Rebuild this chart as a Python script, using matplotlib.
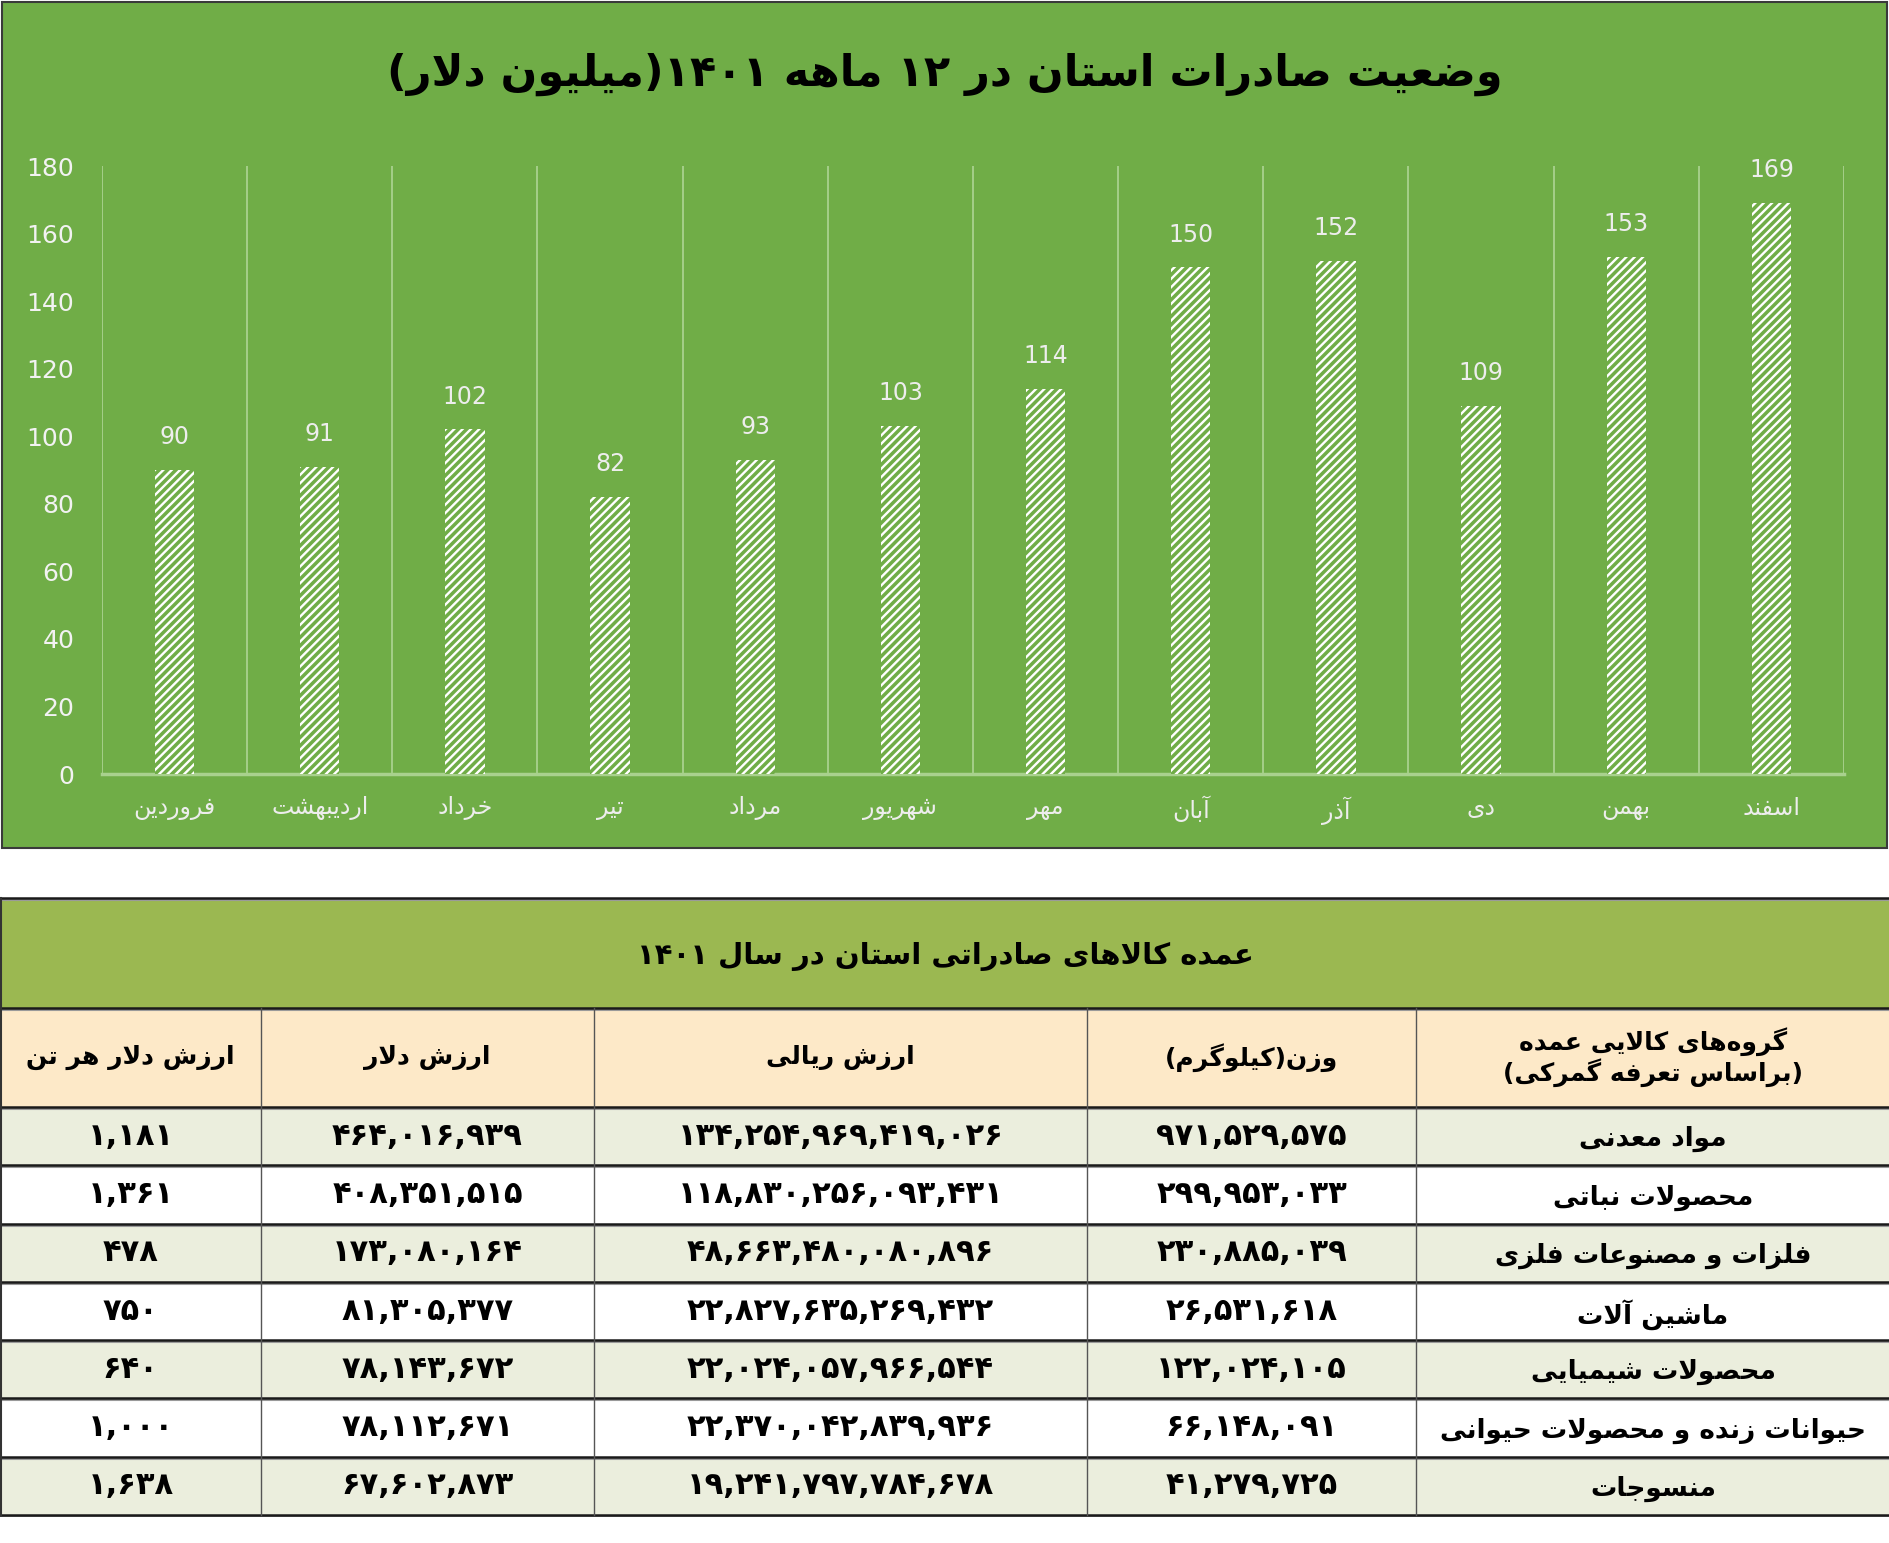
import re
import matplotlib
matplotlib.use('Agg')
import matplotlib.pyplot as plt
from matplotlib.patches import Rectangle
import numpy as np

# data
months = ['فروردین', 'اردیبهشت', 'خرداد', 'تیر', 'مرداد', 'شهریور',
          'مهر', 'آبان', 'آذر', 'دی', 'بهمن', 'اسفند']
exports = [90, 91, 102, 82, 93, 103, 114, 150, 152, 109, 153, 169]

chart_title = 'وضعیت صادرات استان در ۱۲ ماهه ۱۴۰۱(میلیون دلار)'
table_title = 'عمده کالاهای صادراتی استان در سال ۱۴۰۱'
headers = ['گروه\u200cهای کالایی عمده\n(براساس تعرفه گمرکی)', 'وزن(کیلوگرم)',
           'ارزش ریالی', 'ارزش دلار', 'ارزش دلار هر تن']
groups = ['مواد معدنی', 'محصولات نباتی', 'فلزات و مصنوعات فلزی', 'ماشین آلات',
          'محصولات شیمیایی', 'حیوانات زنده و محصولات حیوانی', 'منسوجات']
weight_kg = [971529575, 299953033, 230885039, 26531618, 122024105, 66148091, 41279725]
value_rial = [134254969419026, 118830256093431, 48663480080896, 22827635269432,
              22024057966544, 22370042839936, 19241797784678]
value_usd = [464016939, 408351515, 173080164, 81305377, 78143672, 78112671, 67602873]
usd_per_ton = [1181, 1361, 478, 750, 640, 1000, 1638]


# persian shaping (no arabic_reshaper here)
def four(c):
    return tuple(chr(c + i) for i in range(4))

def two(c):
    return (chr(c), chr(c + 1))

FORMS = {
    'آ': two(0xFE81), 'ا': two(0xFE8D), 'ب': four(0xFE8F), 'پ': four(0xFB56),
    'ت': four(0xFE95), 'ث': four(0xFE99), 'ج': four(0xFE9D), 'چ': four(0xFB7A),
    'ح': four(0xFEA1), 'خ': four(0xFEA5), 'د': two(0xFEA9), 'ذ': two(0xFEAB),
    'ر': two(0xFEAD), 'ز': two(0xFEAF), 'ژ': two(0xFB8A), 'س': four(0xFEB1),
    'ش': four(0xFEB5), 'ص': four(0xFEB9), 'ض': four(0xFEBD), 'ط': four(0xFEC1),
    'ظ': four(0xFEC5), 'ع': four(0xFEC9), 'غ': four(0xFECD), 'ف': four(0xFED1),
    'ق': four(0xFED5), 'ک': four(0xFB8E), 'گ': four(0xFB92), 'ل': four(0xFEDD),
    'م': four(0xFEE1), 'ن': four(0xFEE5), 'و': two(0xFEED), 'ه': four(0xFEE9),
    'ی': four(0xFBFC), 'ئ': four(0xFE89),
    'لا': two(0xFEFB), 'لآ': two(0xFEF5),
}

def jtype(c):
    f = FORMS.get(c)
    if f is None:
        return 'U'
    return 'D' if len(f) == 4 else 'R'

def shape(s):
    toks = []
    i = 0
    while i < len(s):
        if s[i] == 'ل' and i + 1 < len(s) and s[i + 1] in 'اآ':
            toks.append(s[i:i + 2])
            i += 2
        else:
            toks.append(s[i])
            i += 1
    out = []
    for k, c in enumerate(toks):
        t = jtype(c)
        if t == 'U':
            if c != '\u200c':
                out.append(c)
            continue
        jp = k > 0 and jtype(toks[k - 1]) == 'D'
        jn = t == 'D' and k + 1 < len(toks) and jtype(toks[k + 1]) in 'DR'
        f = FORMS[c]
        if jp and jn:
            out.append(f[3])
        elif jp:
            out.append(f[1])
        elif jn:
            out.append(f[2])
        else:
            out.append(f[0])
    return ''.join(out)

def fa(s):
    lines = []
    for line in s.split('\n'):
        r = shape(line)[::-1]
        r = re.sub(r'[0-9۰-۹٬,]+', lambda m: m.group(0)[::-1], r)
        lines.append(r.translate(str.maketrans('()', ')(')))
    return '\n'.join(lines)

def fa_num(n):
    return f'{n:,}'.translate(str.maketrans('0123456789', '۰۱۲۳۴۵۶۷۸۹'))


green = '#70AD47'
plt.rcParams['font.family'] = ['DejaVu Sans']
plt.rcParams['hatch.linewidth'] = 1.7

W, H = 1890, 1543
fig = plt.figure(figsize=(W / 100, H / 100), dpi=100)
fig.patch.set_facecolor('white')

# green chart panel
fig.add_artist(Rectangle((0.001, 1 - 848 / H), 1885 / W, 846 / H, transform=fig.transFigure,
                         facecolor=green, edgecolor='#3a3a3a', linewidth=1.5, zorder=-10))
fig.text(0.5, 1 - 74 / H, fa(chart_title), ha='center', va='center',
         fontsize=31, fontweight='bold', color='black')

ax = fig.add_axes([102 / W, 1 - 774 / H, 1742 / W, 608 / H])
ax.set_facecolor('none')
x = np.arange(len(months))
bars = ax.bar(x, exports, width=0.27, color=green, hatch='////', edgecolor='white',
              linewidth=0, zorder=3)
ax.bar_label(bars, labels=[str(v) for v in exports], padding=15, fontsize=17, color='#EDEDED')

ax.set_xlim(-0.5, len(months) - 0.5)
ax.set_ylim(0, 180)
ax.set_yticks(np.arange(0, 181, 20))
ax.set_xticks(x)
ax.set_xticklabels([fa(m) for m in months], fontsize=17, color='#EDEDED')
ax.set_xticks(np.arange(len(months) + 1) - 0.5, minor=True)
ax.grid(which='minor', axis='x', color='#A9D18E', linewidth=1.3)
ax.tick_params(axis='y', colors='#F2F2F2', labelsize=18, length=0, pad=20)
ax.tick_params(axis='x', which='both', length=0, pad=16)
for side in ['top', 'right', 'left']:
    ax.spines[side].set_visible(False)
ax.spines['bottom'].set_color('#A9D18E')
ax.spines['bottom'].set_linewidth(2.5)

# table
tx = fig.add_axes([0, 1 - 1517 / H, 1, 621 / H])
tx.set_xlim(0, W)
tx.set_ylim(1517, 896)
tx.axis('off')

col_edges = [W, 1416, 1087, 594, 261, 0]   # right to left
title_top, head_top, body_top, row_h = 898, 1008, 1107, 58.3
n_rows = len(groups)

tx.add_patch(Rectangle((0, title_top), W, head_top - title_top, facecolor='#9BB851', edgecolor='none'))
tx.text(W / 2, (title_top + head_top) / 2 + 3, fa(table_title), ha='center', va='center',
        fontsize=21, fontweight='bold')
tx.add_patch(Rectangle((0, head_top), W, body_top - head_top, facecolor='#FDE9C8', edgecolor='none'))
for j, h in enumerate(headers):
    cx = (col_edges[j] + col_edges[j + 1]) / 2
    tx.text(cx, (head_top + body_top) / 2, fa(h), ha='center', va='center',
            fontsize=18, fontweight='bold', linespacing=1.1)

cols = [groups, [fa_num(v) for v in weight_kg], [fa_num(v) for v in value_rial],
        [fa_num(v) for v in value_usd], [fa_num(v) for v in usd_per_ton]]
for i in range(n_rows):
    y0 = body_top + i * row_h
    fc = '#EBEEDD' if i % 2 == 0 else 'white'
    tx.add_patch(Rectangle((0, y0), W, row_h, facecolor=fc, edgecolor='none'))
    for j in range(5):
        cx = (col_edges[j] + col_edges[j + 1]) / 2
        if j == 0:
            tx.text(cx, y0 + row_h / 2 + 3, fa(cols[j][i]), ha='center', va='center',
                    fontsize=19, fontweight='bold')
        else:
            tx.text(cx, y0 + row_h / 2, cols[j][i], ha='center', va='center',
                    fontsize=22, fontweight='bold')

# grid lines of the table
for yy in [title_top, head_top, body_top] + [body_top + i * row_h for i in range(1, n_rows + 1)]:
    tx.plot([0, W], [yy + 2, yy + 2], color='#9a9a9a', linewidth=1.5)
    tx.plot([0, W], [yy, yy], color='#1a1a1a', linewidth=1.8)
for xx in col_edges[1:-1]:
    tx.plot([xx, xx], [head_top, body_top + n_rows * row_h], color='#555555', linewidth=1)
tx.plot([1, 1], [title_top, body_top + n_rows * row_h], color='#333333', linewidth=1.5)

fig.savefig('out.png', dpi=100, facecolor='white')
